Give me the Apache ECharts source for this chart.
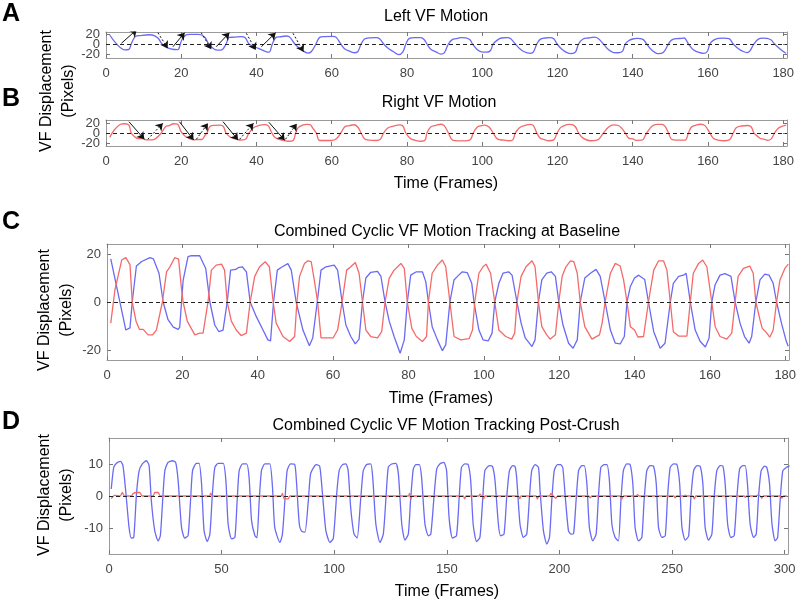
<!DOCTYPE html>
<html><head><meta charset="utf-8">
<script src="https://cdn.jsdelivr.net/npm/echarts@6/dist/echarts.min.js"></script>
<style>html,body{margin:0;padding:0;background:#fff}#c{width:800px;height:603px}</style>
</head><body><div id="c"></div>
<script>
// ---------- tick labels ----------
const xTicksFrames180 = [0, 20, 40, 60, 80, 100, 120, 140, 160, 180];
const xTicksFrames300 = [0, 50, 100, 150, 200, 250, 300];
const yTicks20 = [-20, 0, 20];
const yTicks10 = [-10, 0, 10];

// ---------- texts ----------
const panelLetters = ['A', 'B', 'C', 'D'];
const panelTitles = ['Left VF Motion', 'Right VF Motion', 'Combined Cyclic VF Motion Tracking at Baseline', 'Combined Cyclic VF Motion Tracking Post-Crush'];
const xName = 'Time (Frames)';
const yName1 = 'VF Displacement';
const yName2 = '(Pixels)';

// ---------- baseline series: [frame, displacement px] ----------
const leftVF = [[1,18],[5,-11.7],[6.1,-10.8],[6.7,0],[7.8,15],[9.2,16.9],[11.4,18.5],[12.3,18],[13.8,12],[14.9,0],[16.2,-7.4],[17.6,-10.5],[18.9,-11.4],[19.3,-10.5],[20.2,9],[21.5,18.9],[22.4,19.3],[24.6,19.3],[26.2,14],[27.3,0],[28.6,-9.6],[29.7,-12.4],[30.8,-11.7],[31.9,0],[32.8,13.3],[34.2,13.6],[34.8,14.3],[35.9,14.7],[37,12.6],[38,0],[39.6,-6],[41.4,-11.7],[42.7,-15.8],[43.4,-16.2],[44.2,0],[45.2,13.3],[46.2,14.4],[48,16],[48.9,13.3],[50.2,0],[52,-11.7],[53.7,-18.3],[54.6,-15],[55.8,0],[56.8,13.3],[58.1,14.7],[60.3,15.4],[61.2,13.3],[62.4,0],[63.4,-9.6],[64.7,-14.4],[65.9,-17.5],[66.9,-15.5],[67.8,0],[68.7,10],[70,12.4],[71.8,12.8],[72.7,10.7],[73.8,0],[74.9,-8],[76.2,-14.4],[77.8,-21.4],[78.9,-15.8],[79.7,0],[80.6,11.2],[82.1,12.6],[83.7,12.6],[84.6,8.5],[85.3,0],[86.3,-10.3],[87.7,-15.8],[89,-20.3],[89.9,-17.9],[91,0],[92.1,9.2],[93,10.7],[94.3,12.6],[95.6,12.3],[96.8,7.8],[97.4,0],[98.7,-11.7],[99.8,-15.8],[101.2,-16.2],[102.2,-13],[102.9,0],[104,7.8],[105.1,12],[106.6,12.6],[107.5,11.2],[108.8,0],[109.9,-8.8],[111,-15],[112.8,-18.6],[113.6,-15.8],[114.5,0],[115.4,9.2],[116.7,12],[117.9,12.6],[119,10.7],[119.9,0],[121,-9.5],[122.5,-17.2],[123.7,-19.3],[124.8,-15.8],[125.6,0],[126.8,10],[128.3,12],[129.8,13.6],[130.9,10.7],[132.2,0],[133.6,-11.7],[134.9,-17.2],[136.2,-17.5],[137.3,-14.4],[138,0],[138.9,6.5],[140,10],[141.1,11.2],[142.7,9.4],[143.7,0],[145.1,-12.4],[146.8,-19.3],[148.1,-17.2],[149.5,0],[150.3,7.8],[151.7,10.7],[153,11.2],[153.7,12],[154.8,0],[156.1,-11.7],[157.4,-16.4],[158.8,-18.8],[159.8,-15],[160.5,0],[161.4,7.2],[162.7,11.2],[164,11.8],[165.6,10.7],[166.7,0],[168,-8.8],[169.2,-14.4],[170.4,-17.2],[171.1,-14.4],[172.2,0],[173.3,9.2],[174.6,11.6],[175.7,11.2],[176.8,7.8],[177.7,0],[179,-8.8],[180.3,-16.5],[180.8,-18.5]];

const rightVF = [[1,-8.8],[2.1,5],[3.9,17.5],[5,18.5],[6.1,15.6],[6.7,0],[7.7,-8],[8.6,-11.4],[9.6,-11.4],[10.9,-13.7],[12.1,-13.7],[13.1,-11.7],[14.7,0],[15.8,12.6],[16.7,14.7],[18,18.5],[19,17.9],[19.8,5],[20.2,0],[21.3,-8],[23.3,-13.7],[24.6,-13],[25.5,-13],[26.2,-6],[26.8,0],[27.7,13.3],[29,15.4],[30.4,15.8],[31.2,13.3],[31.9,0],[33,-8],[34.3,-11.7],[35.6,-14],[37,-13],[38,0],[39.2,10.7],[40.5,14.7],[42,16.8],[43.1,14.7],[44.1,0],[44.9,-8.8],[46.7,-14.4],[48.5,-16.5],[49.8,-14.4],[50.4,0],[51.1,10.7],[52.4,16.1],[53.3,17.2],[54.2,16.8],[55,9.2],[55.9,0],[56.8,-15],[60,-15],[61.2,-11.7],[62.4,0],[63.6,13.3],[64.7,14.7],[65.9,16.5],[66.9,12],[67.8,0],[68.7,-11.7],[70,-14.4],[71.8,-15],[72.9,-12.4],[73.8,0],[74.9,10],[76.2,13.3],[78,16.1],[78.9,14],[79.7,0],[80.9,-11],[82.1,-14.4],[83.7,-16.5],[84.8,-14.4],[85.3,0],[86.3,12],[87.7,15.4],[89,17.5],[89.9,14.7],[91,0],[92.1,-14.4],[93.9,-15.8],[96.1,-15.3],[97,-11.7],[97.6,0],[98.7,12],[99.8,14.7],[100.6,15.8],[101.8,12],[102.9,0],[104,-11.7],[105.8,-14.4],[107.4,-15.5],[108.2,-13],[108.8,0],[109.9,10.7],[111.2,14.7],[112.8,17.2],[113.6,14.7],[114.5,0],[115.4,-10.3],[116.7,-13.7],[117.6,-15.5],[119,-13.7],[119.9,0],[120.8,10.7],[121.8,14.7],[123,17.2],[123.9,16.8],[124.8,12],[125.6,0],[126.8,-10.3],[128.7,-15.5],[130.7,-13.7],[131.4,-8.8],[132.2,0],[133.6,12],[134.9,16.1],[136.2,15],[137.1,9.2],[138,0],[138.9,-10.3],[140,-11.7],[140.9,-14.6],[142.4,-14.4],[143.7,0],[145.1,13.3],[146.4,17.2],[147.7,17.2],[148.6,13.3],[149.5,0],[150.3,-12.4],[151.7,-14.2],[153.9,-14.2],[154.8,0],[155.6,12],[157,16.1],[158.1,17.5],[159.2,14.7],[160.5,0],[161.4,-10.3],[162.7,-14.4],[164.5,-15.5],[165.8,-13],[166.7,0],[167.5,10.7],[168.9,14],[170.6,15],[171.5,12],[172.2,0],[173.3,-7.4],[173.9,-11],[174.8,-12.4],[175.9,-14.7],[176.8,-11.7],[177.7,0],[178.6,9.2],[179.9,14],[180.8,15.8]];

// ---------- post-crush series ----------
const leftPostCrush = [[1,2.2],[2.1,8.9],[3.3,10.2],[5.1,10.8],[6.2,9.5],[7.4,1.7],[8.9,-9.8],[9.9,-13.1],[11,-12.9],[12.2,0.6],[13.4,7.9],[14.8,10],[16.6,11],[17.8,9.5],[18.8,-1.5],[20.3,-10.8],[21.8,-14],[22.8,-12.4],[24,0.6],[24.8,7.9],[26.2,10.5],[28.2,11],[29.6,10.5],[30.7,4.8],[32.2,-9.8],[33.6,-13.1],[35.1,-12.4],[36.2,-1.5],[37.1,7.9],[38.8,10.2],[40,10.2],[41.1,3.8],[42.2,-10.8],[43.6,-14.2],[44.8,-11.9],[45.9,0.6],[47,8.9],[48.5,10.2],[50.7,10.2],[51.9,4.8],[52.9,-8.8],[54.4,-13.4],[55.9,-12.9],[56.9,-1.5],[57.8,7.9],[59.3,10],[61.1,10],[62.2,5.8],[63.3,-7.7],[64.8,-12.4],[65.7,-13],[66.7,-1.5],[67.7,7.9],[69.2,10],[71.4,10],[72.6,2.7],[73.6,-9.8],[75.9,-14.5],[77,-11.9],[78.1,-1.5],[79.1,7.9],[80.6,10],[82.5,9.8],[83.3,3.8],[84.5,-8.8],[85.5,-11],[87,-11.3],[88.5,-1.5],[89.5,6.9],[91.4,9.5],[92.2,9.8],[93.6,9.2],[94.8,0.6],[96.3,-10.8],[98.1,-14.5],[99.6,-13.2],[101.1,0.6],[102.2,7.9],[103.7,9.8],[105.2,10],[106.2,7.9],[107.3,-3.5],[108.8,-11.9],[110.2,-13.1],[111.7,-1.5],[112.9,7.9],[114.4,9.8],[116.2,10],[117.1,5.8],[118.5,-8.8],[120.3,-14.5],[121.8,-11.9],[123,-0.4],[124,8.9],[125.5,10],[127.4,10.2],[128.5,6.9],[130,-8.8],[131.4,-13.8],[132.9,-11.9],[133.9,-1.5],[135.1,8.4],[136.3,9.8],[137.8,9.8],[138.8,5.8],[140.3,-8.8],[141.8,-12.4],[142.9,-11.9],[144.3,-0.4],[145.5,8.4],[146.9,10],[148.7,10.5],[149.9,7.9],[151,-6.7],[152.5,-13.1],[154.3,-12.4],[155.5,-0.4],[156.5,8.9],[158,10],[159.5,9.8],[160.6,4.8],[161.7,-8.8],[163.2,-14.2],[164.7,-12.9],[165.9,-1.5],[166.9,7.9],[168.9,9.5],[170.3,9.2],[171.4,4.8],[172.9,-8.8],[173.9,-12.4],[175.4,-11.9],[176.6,-0.4],[177.8,7.9],[179.3,9.5],[180.3,9.2],[181,5.8],[182.5,-8.8],[184,-12.9],[185.5,-11.9],[186.7,-0.4],[187.7,7.9],[189.2,9.8],[190.7,8.9],[191.4,1.7],[192.9,-10.8],[194.4,-15],[195.6,-12.9],[196.6,-1.5],[197.7,7.9],[199.1,9.8],[200.5,9.8],[201.5,8.9],[202.5,0.6],[204,-10.8],[205.1,-11.9],[206.3,-11.7],[207.4,-1.5],[208.5,7.9],[210,9.5],[211,9.5],[212.2,3.8],[213.3,-9.8],[214.8,-14],[216.3,-11.9],[217.3,-0.4],[218.4,8.9],[219.9,9.8],[221.1,9.8],[222.2,4.8],[223.3,-8.8],[224.7,-12.9],[226.2,-14],[227.3,-1.5],[228.4,7.9],[229.9,10],[231.4,9.8],[232.6,3.8],[233.6,-9.8],[235.1,-14],[236.6,-12.9],[237.6,-1.5],[238.8,7.9],[240.3,9.5],[241.8,9.3],[243,3.8],[244,-9.8],[245.5,-12.9],[247,-12.4],[248,-0.4],[249.2,8.9],[250.7,10],[252.2,9.8],[253.4,3.8],[254.4,-9.8],[255.9,-13.8],[257.4,-12.4],[258.4,-0.4],[259.6,7.9],[261.1,9.5],[262.5,9.3],[263.7,3.8],[264.7,-9.8],[266.2,-13.8],[267.7,-11.9],[268.7,-0.4],[269.9,7.9],[271.4,9.5],[272.6,9.3],[273.6,3.8],[274.7,-8.8],[276.1,-12.9],[277.6,-12.4],[278.8,-0.4],[280,8.4],[281.4,9.5],[282.5,9.5],[283.5,3.8],[284.7,-8.8],[286.2,-12.9],[287.4,-11.9],[288.4,-0.4],[289.6,7.9],[291.1,9.3],[292.1,8.9],[293.3,3.8],[294.4,-8.8],[295.8,-14],[296.9,-12.9],[298.1,-0.4],[299.2,7.9],[300.7,8.9],[302.2,9.5]];

const rightPostCrush = [[1,-0.8],[2.5,0.2],[5,0],[5.9,1.1],[6.9,0],[10,0],[10.7,0.8],[12.2,1.1],[13.6,1.1],[14.8,0],[19.6,0],[20.3,1.1],[21.8,1.1],[22.8,0],[44.6,0],[45.2,0.9],[45.9,0],[76.4,0],[77,0.8],[77.8,-0.9],[79.6,-0.9],[80.3,0],[133,0],[133.4,0.8],[134,-1],[134.7,0],[157.3,0],[157.9,-0.9],[158.6,0],[164.2,0],[164.8,0.6],[166.3,-0.9],[167,0],[181.8,0],[182.4,-0.9],[183,0],[189.6,0],[190.2,-0.9],[190.9,0],[195.6,0],[196.2,0.8],[197.3,0],[198.4,-0.7],[199.2,0],[213,0],[213.7,-0.6],[214.4,0],[227,0],[227.7,-0.9],[228.5,0],[234,0],[234.7,0.4],[235.4,0],[250.8,0],[251.4,-0.6],[252,0],[255.3,0],[255.9,0.3],[256.5,0],[259.2,0],[259.9,-0.9],[260.6,0],[282,0],[282.5,-0.4],[283.1,0],[287.3,0],[287.9,0.3],[289.2,0],[289.9,-0.7],[290.5,0],[298.2,0],[298.8,-0.7],[299.5,0],[301,0]];

// ---------- annotation arrows: [x1, y1, x2, y2, lineType] ----------
const leftArrows = [[4.1,1.4,8.2,29,'solid'],[13.8,22.6,16.4,-8.6,'dotted'],[17.8,-5.4,20.9,22.6,'solid'],[25.3,22.6,28,-10.6,'dotted'],[29.3,-5.4,32.8,22.6,'solid'],[37.3,21.4,39.8,-12,'dotted'],[41.3,-5.4,45.1,22.6,'solid'],[49.7,21.4,52.5,-15.4,'dotted']];
const rightArrows = [[6.1,22.6,10.2,-12.6,'solid'],[11.1,-12.6,15.1,19.4,'dotted'],[19.5,22.6,23.3,-14,'solid'],[24,-12.6,27.1,19.4,'dotted'],[31.1,22.6,35.1,-14,'solid'],[35.5,-12.6,39.2,19.4,'dotted'],[43.3,21.4,47.5,-14.7,'solid'],[47.7,-12.6,50.7,18.7,'dotted']];

// ---------- chart ----------
const FONT = "'Liberation Sans', Arial, sans-serif";
const BLUE = '#6a6af4', RED = '#f46a6a', BOX = '#9a9a9a', LBL = '#444';

const grids = [
  {left: 106, top: 32, width: 681, height: 26},
  {left: 106, top: 120, width: 681, height: 26},
  {left: 107, top: 244, width: 682, height: 116},
  {left: 109, top: 438, width: 679, height: 116}
];
const xSpec = [[181, xTicksFrames180], [181, xTicksFrames180], [181, xTicksFrames180], [301.5, xTicksFrames300]];
const ySpec = [[-28, 24, yTicks20], [-26, 26, yTicks20], [-24.2, 24.2, yTicks20], [-18.1, 18.1, yTicks10]];

const xAxes = [], yAxes = [];
function labelStyle(show, values, margin) {
  return {show: show, customValues: values, color: LBL, fontSize: 13, fontFamily: FONT, margin: margin,
    hideOverlap: false, showMinLabel: true, showMaxLabel: true};
}
grids.forEach((g, i) => {
  ['bottom', 'top'].forEach(pos => {
    xAxes.push({
      type: 'value', gridIndex: i, position: pos, min: 0, max: xSpec[i][0],
      axisLine: {show: true, onZero: false, lineStyle: {color: BOX, width: 1}},
      axisTick: {show: true, inside: true, length: 4, customValues: xSpec[i][1], lineStyle: {color: '#777'}},
      axisLabel: labelStyle(pos === 'bottom', xSpec[i][1], 9),
      splitLine: {show: false}
    });
  });
  // in the short panels the outer labels crowd the middle one, so the middle label lives on its own axis
  const compact = i < 2;
  ['left', 'right'].forEach(pos => {
    yAxes.push({
      type: 'value', gridIndex: i, position: pos, min: ySpec[i][0], max: ySpec[i][1],
      axisLine: {show: true, onZero: false, lineStyle: {color: BOX, width: 1}},
      axisTick: {show: true, inside: true, length: 4, customValues: ySpec[i][2], lineStyle: {color: '#777'}},
      axisLabel: labelStyle(pos === 'left', compact ? ySpec[i][2].filter(v => v !== 0) : ySpec[i][2], 6),
      splitLine: {show: false}
    });
  });
});
[0, 1].forEach(i => {
  yAxes.push({
    type: 'value', gridIndex: i, position: 'left', min: ySpec[i][0], max: ySpec[i][1],
    axisLine: {show: false, onZero: false}, axisTick: {show: false},
    axisLabel: labelStyle(true, ySpec[i][2].filter(v => v === 0), 6),
    splitLine: {show: false}
  });
});

function zeroLine() {
  return {silent: true, symbol: 'none', label: {show: false}, animation: false,
    lineStyle: {color: '#222', type: [4, 3], width: 1}, data: [{yAxis: 0}]};
}
function lineSeries(data, grid, color, smooth, withZero) {
  const s = {type: 'line', xAxisIndex: grid * 2, yAxisIndex: grid * 2, data: data,
    showSymbol: false, smooth: smooth, lineStyle: {color: color, width: 1.3}, itemStyle: {color: color}, z: 3};
  if (withZero) s.markLine = zeroLine();
  return s;
}
function arrowSeries(arrows, grid) {
  return {type: 'lines', coordinateSystem: 'cartesian2d', xAxisIndex: grid * 2, yAxisIndex: grid * 2,
    symbol: ['none', 'arrow'], symbolSize: 7, z: 5, silent: true,
    lineStyle: {color: '#111', width: 1, opacity: 1},
    data: arrows.map(a => ({coords: [[a[0], a[1]], [a[2], a[3]]], lineStyle: {type: a[4] === 'dotted' ? [2, 2] : 'solid'}}))};
}

const series = [
  lineSeries(leftVF, 0, BLUE, 0.35, true),
  arrowSeries(leftArrows, 0),
  lineSeries(rightVF, 1, RED, 0.35, true),
  arrowSeries(rightArrows, 1),
  lineSeries(leftVF, 2, BLUE, false, false),
  lineSeries(rightVF, 2, RED, false, true),
  lineSeries(leftPostCrush, 3, BLUE, 0.2, false),
  lineSeries(rightPostCrush, 3, RED, 0.2, true)
];

function txt(s, x, y, font, color, rot) {
  return {type: 'text', x: x, y: y, rotation: rot || 0, silent: true,
    style: {text: s, font: font, fill: color || '#000', align: 'center', verticalAlign: 'middle'}};
}
const titleFont = '16px ' + FONT, nameFont = '16px ' + FONT, letterFont = 'bold 25px ' + FONT;
const graphics = [
  txt(panelLetters[0], 11, 14, letterFont), txt(panelLetters[1], 11, 99, letterFont),
  txt(panelLetters[2], 11, 222, letterFont), txt(panelLetters[3], 11, 422, letterFont),
  txt(panelTitles[0], 436, 17, titleFont), txt(panelTitles[1], 439, 103, titleFont),
  txt(panelTitles[2], 447, 232, titleFont), txt(panelTitles[3], 446, 426, titleFont),
  txt(xName, 446, 184, nameFont), txt(xName, 441, 399, nameFont), txt(xName, 447, 592, nameFont),
  txt(yName1, 47, 91, nameFont, '#000', Math.PI / 2), txt(yName2, 69, 91, nameFont, '#000', Math.PI / 2),
  txt(yName1, 45, 310, nameFont, '#000', Math.PI / 2), txt(yName2, 67, 310, nameFont, '#000', Math.PI / 2),
  txt(yName1, 45, 495, nameFont, '#000', Math.PI / 2), txt(yName2, 67, 495, nameFont, '#000', Math.PI / 2)
];

const chart = echarts.init(document.getElementById('c'), null, {renderer: 'canvas'});
chart.setOption({
  animation: false,
  backgroundColor: '#fff',
  grid: grids,
  xAxis: xAxes,
  yAxis: yAxes,
  series: series,
  graphic: graphics
});
</script></body></html>
